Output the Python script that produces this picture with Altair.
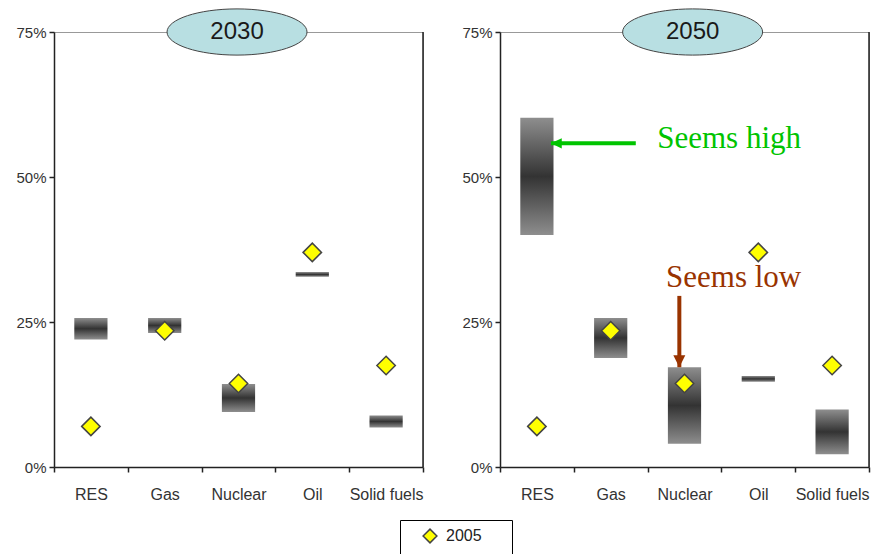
import altair as alt
import pandas as pd

# Energy mix shares (%), read per fuel category
categories = ["RES", "Gas", "Nuclear", "Oil", "Solid fuels"]
share_2005 = [7.0, 23.5, 14.4, 37.0, 17.5]

range_2030_low = [22.0, 23.1, 9.5, 32.8, 6.8]
range_2030_high = [25.7, 25.7, 14.3, 33.6, 8.9]

range_2050_low = [40.0, 18.8, 4.0, 14.7, 2.2]
range_2050_high = [60.2, 25.7, 17.2, 15.7, 9.9]

panel_years = ["2030", "2050"]
reference_label = "2005"

PANEL_W = 369
PANEL_H = 435

bar_fill = alt.Gradient(
    gradient="linear",
    stops=[
        alt.GradientStop(color="#8e8e8e", offset=0),
        alt.GradientStop(color="#333333", offset=0.5),
        alt.GradientStop(color="#8e8e8e", offset=1),
    ],
    x1=0, x2=0, y1=0, y2=1,
)

y_scale = alt.Scale(domain=[0, 75], nice=False, zero=True)
y_axis = alt.Axis(
    values=[0, 25, 50, 75],
    labelExpr="datum.value + '%'",
    labelFontSize=15,
    labelPadding=3,
    title=None,
)
x_axis = alt.Axis(
    tickBand="extent",
    labelAngle=0,
    labelFontSize=16,
    labelPadding=14,
    title=None,
)
# boxed legend; a blank title on the right side widens the frame
ref_legend = alt.Legend(
    title="\u00a0",
    titleOrient="right",
    titlePadding=22,
    titleFontSize=8,
    orient="none",
    legendX=346,
    legendY=488,
    direction="vertical",
    strokeColor="#000000",
    fillColor="#ffffff",
    padding=8,
    symbolOffset=14,
    labelOffset=8,
    labelFontSize=16,
    labelFont="Liberation Sans",
    labelColor="#222222",
    symbolSize=190,
    symbolFillColor="#ffff00",
    symbolStrokeColor="#444444",
    symbolStrokeWidth=1.5,
)

# quantitative coordinate system spanning the category band [0, 5]
ann_x = dict(scale=alt.Scale(domain=[0, 5], nice=False, zero=False), axis=None)


def make_panel(low, high, year, title_pos, extra_layers):
    df = pd.DataFrame({
        "fuel": categories,
        "low": low,
        "high": high,
        "share": share_2005,
        "series": [reference_label] * len(categories),
    })
    x_enc = alt.X(
        "fuel:N", sort=categories, title=None,
        scale=alt.Scale(paddingInner=0, paddingOuter=0), axis=x_axis,
    )
    bars = alt.Chart(df).mark_bar(
        color=bar_fill, width=alt.RelativeBandSize(0.45)
    ).encode(
        x=x_enc,
        y=alt.Y("low:Q", scale=y_scale, axis=y_axis),
        y2="high:Q",
    )
    diamonds = alt.Chart(df).mark_point(
        shape="diamond", size=340, opacity=1, fillOpacity=1, strokeOpacity=1,
        stroke="#444444", strokeWidth=1.5,
    ).encode(
        x=x_enc,
        y=alt.Y("share:Q", scale=y_scale, axis=y_axis),
        fill=alt.Fill("series:N", scale=alt.Scale(domain=[reference_label], range=["#ffff00"]), legend=ref_legend),
        shape=alt.Shape("series:N", scale=alt.Scale(domain=[reference_label], range=["diamond"]), legend=ref_legend),
    )
    data_layer = alt.layer(bars, diamonds)

    title_df = pd.DataFrame({"px": [title_pos], "py": [75], "label": [year]})
    ellipse = alt.Chart(title_df).mark_point(
        shape="M-1,0A1,0.33 0 1,1 1,0A1,0.33 0 1,1 -1,0Z",
        size=19600, filled=True, opacity=1,
        fill="#b8dfe2", stroke="#444444", strokeWidth=1,
    ).encode(
        x=alt.X("px:Q", **ann_x),
        y=alt.Y("py:Q", scale=y_scale, axis=y_axis),
    )
    year_text = alt.Chart(title_df).mark_text(
        font="Liberation Sans", fontSize=24, color="#1a1a1a",
        align="center", baseline="middle",
    ).encode(
        x=alt.X("px:Q", **ann_x),
        y=alt.Y("py:Q", scale=y_scale, axis=y_axis),
        text="label:N",
    )
    frame_df = pd.DataFrame({"px": [5], "py": [0], "py2": [75]})
    right_edge = alt.Chart(frame_df).mark_rule(color="#222222", strokeWidth=1.5).encode(
        x=alt.X("px:Q", **ann_x),
        y=alt.Y("py:Q", scale=y_scale, axis=y_axis),
        y2="py2:Q",
    )
    ann_layer = alt.layer(right_edge, ellipse, year_text, *extra_layers)

    return alt.layer(data_layer, ann_layer).resolve_scale(x="independent").properties(
        width=PANEL_W, height=PANEL_H
    )


# call-outs on the 2050 panel
high_note = pd.DataFrame({"px": [0.69], "px2": [1.84], "py": [55.8], "tx": [2.13], "ty": [55.0], "label": ["Seems high"]})
low_note = pd.DataFrame({"px": [2.43], "py": [29.5], "py2": [17.2], "tx": [2.25], "ty": [31.0], "label": ["Seems low"]})

GREEN = "#00c400"
BROWN = "#993300"

green_line = alt.Chart(high_note).mark_rule(color=GREEN, strokeWidth=4).encode(
    x=alt.X("px:Q", **ann_x), x2="px2:Q",
    y=alt.Y("py:Q", scale=y_scale, axis=y_axis),
)
green_head = alt.Chart(high_note).mark_point(
    shape="M0,0L1.8,-0.85L1.8,0.85Z", size=144, filled=True, opacity=1, color=GREEN,
).encode(
    x=alt.X("px:Q", **ann_x),
    y=alt.Y("py:Q", scale=y_scale, axis=y_axis),
)
green_text = alt.Chart(high_note).mark_text(
    font="Liberation Serif", fontSize=31, color=GREEN, align="left", baseline="alphabetic",
).encode(
    x=alt.X("tx:Q", **ann_x),
    y=alt.Y("ty:Q", scale=y_scale, axis=y_axis),
    text="label:N",
)
brown_line = alt.Chart(low_note).mark_rule(color=BROWN, strokeWidth=4).encode(
    x=alt.X("px:Q", **ann_x),
    y=alt.Y("py:Q", scale=y_scale, axis=y_axis), y2="py2:Q",
)
brown_head = alt.Chart(low_note).mark_point(
    shape="M0,0L-1,-2L1,-2Z", size=144, filled=True, opacity=1, color=BROWN,
).encode(
    x=alt.X("px:Q", **ann_x),
    y=alt.Y("py2:Q", scale=y_scale, axis=y_axis),
)
brown_text = alt.Chart(low_note).mark_text(
    font="Liberation Serif", fontSize=31, color=BROWN, align="left", baseline="alphabetic",
).encode(
    x=alt.X("tx:Q", **ann_x),
    y=alt.Y("ty:Q", scale=y_scale, axis=y_axis),
    text="label:N",
)

left = make_panel(range_2030_low, range_2030_high, panel_years[0], 2.48, [])
right = make_panel(
    range_2050_low, range_2050_high, panel_years[1], 2.61,
    [green_line, green_head, green_text, brown_line, brown_head, brown_text],
)

chart = alt.hconcat(left, right, spacing=77, bounds="flush").properties(
    padding={"left": 15, "top": 6, "right": 0, "bottom": 0},
    background="#ffffff",
).configure_view(
    stroke="#999999", strokeWidth=1,
).configure_axis(
    domainColor="#222222", domainWidth=1.5,
    tickColor="#222222", tickWidth=1.5, tickSize=5,
    labelFont="Liberation Sans", labelColor="#333333",
    grid=False,
)

chart.save("out.html", embed_options={"renderer": "svg", "actions": False})
